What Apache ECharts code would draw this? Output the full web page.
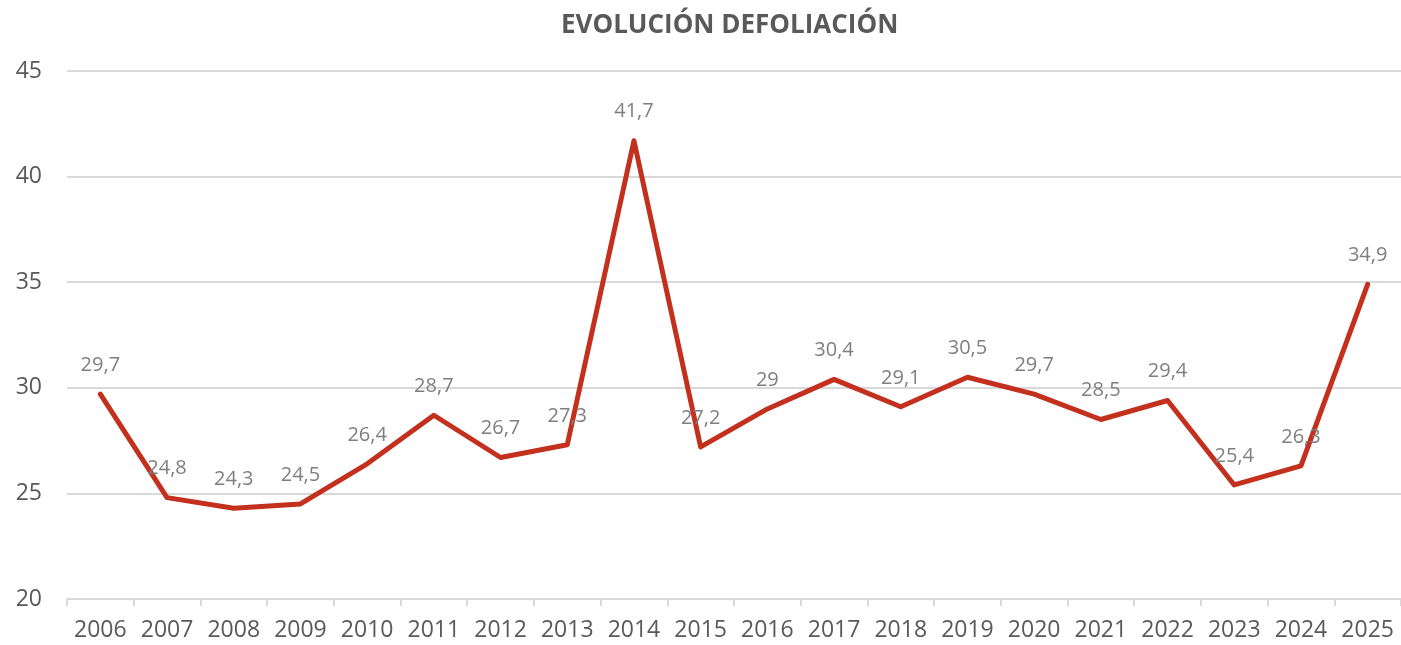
<!DOCTYPE html>
<html>
<head>
<meta charset="utf-8">
<script src="https://cdn.jsdelivr.net/npm/echarts@6/dist/echarts.min.js"></script>
<style>
  html, body { margin: 0; padding: 0; background: #fff; }
  #chart { width: 1401px; height: 645px; }
</style>
</head>
<body>
<div id="chart"></div>
<script>
const years = ['2006', '2007', '2008', '2009', '2010', '2011', '2012', '2013', '2014', '2015',
    '2016', '2017', '2018', '2019', '2020', '2021', '2022', '2023', '2024', '2025'];
const defoliacion = [29.7, 24.8, 24.3, 24.5, 26.4, 28.7, 26.7, 27.3, 41.7, 27.2,
    29, 30.4, 29.1, 30.5, 29.7, 28.5, 29.4, 25.4, 26.3, 34.9];

const chart = echarts.init(document.getElementById('chart'));
chart.setOption({
    animation: false,
    textStyle: { fontFamily: 'Open Sans' },
    title: {
        text: 'EVOLUCIÓN DEFOLIACIÓN',
        left: 556,
        top: 8,
        textStyle: { fontFamily: 'Open Sans', fontWeight: 'bold', fontSize: 26, color: '#595959' }
    },
    grid: { left: 67, right: -4, top: 71, bottom: 46 },
    xAxis: {
        type: 'category',
        data: years,
        boundaryGap: true,
        axisLine: { lineStyle: { color: '#d9d9d9', width: 2 } },
        axisTick: { show: true, length: 7, lineStyle: { color: '#d9d9d9', width: 2 } },
        axisLabel: { color: '#595959', fontSize: 23, margin: 20, interval: 0 }
    },
    yAxis: {
        type: 'value',
        min: 20,
        max: 45,
        interval: 5,
        axisLine: { show: false },
        axisTick: { show: false },
        axisLabel: { color: '#595959', fontSize: 23, margin: 25 },
        splitLine: { lineStyle: { color: '#d9d9d9', width: 2 } }
    },
    series: [{
        type: 'line',
        data: defoliacion,
        symbol: 'circle',
        symbolSize: 2,
        showSymbol: true,
        itemStyle: { color: '#c3301d' },
        lineStyle: { color: '#c3301d', width: 5, join: 'round', cap: 'round' },
        label: {
            show: true,
            position: 'top',
            distance: 18,
            color: '#7f7f7f',
            fontSize: 20,
            formatter: (p) => String(p.value).replace('.', ',')
        },
        labelLayout: { hideOverlap: false }
    }]
});
</script>
</body>
</html>
